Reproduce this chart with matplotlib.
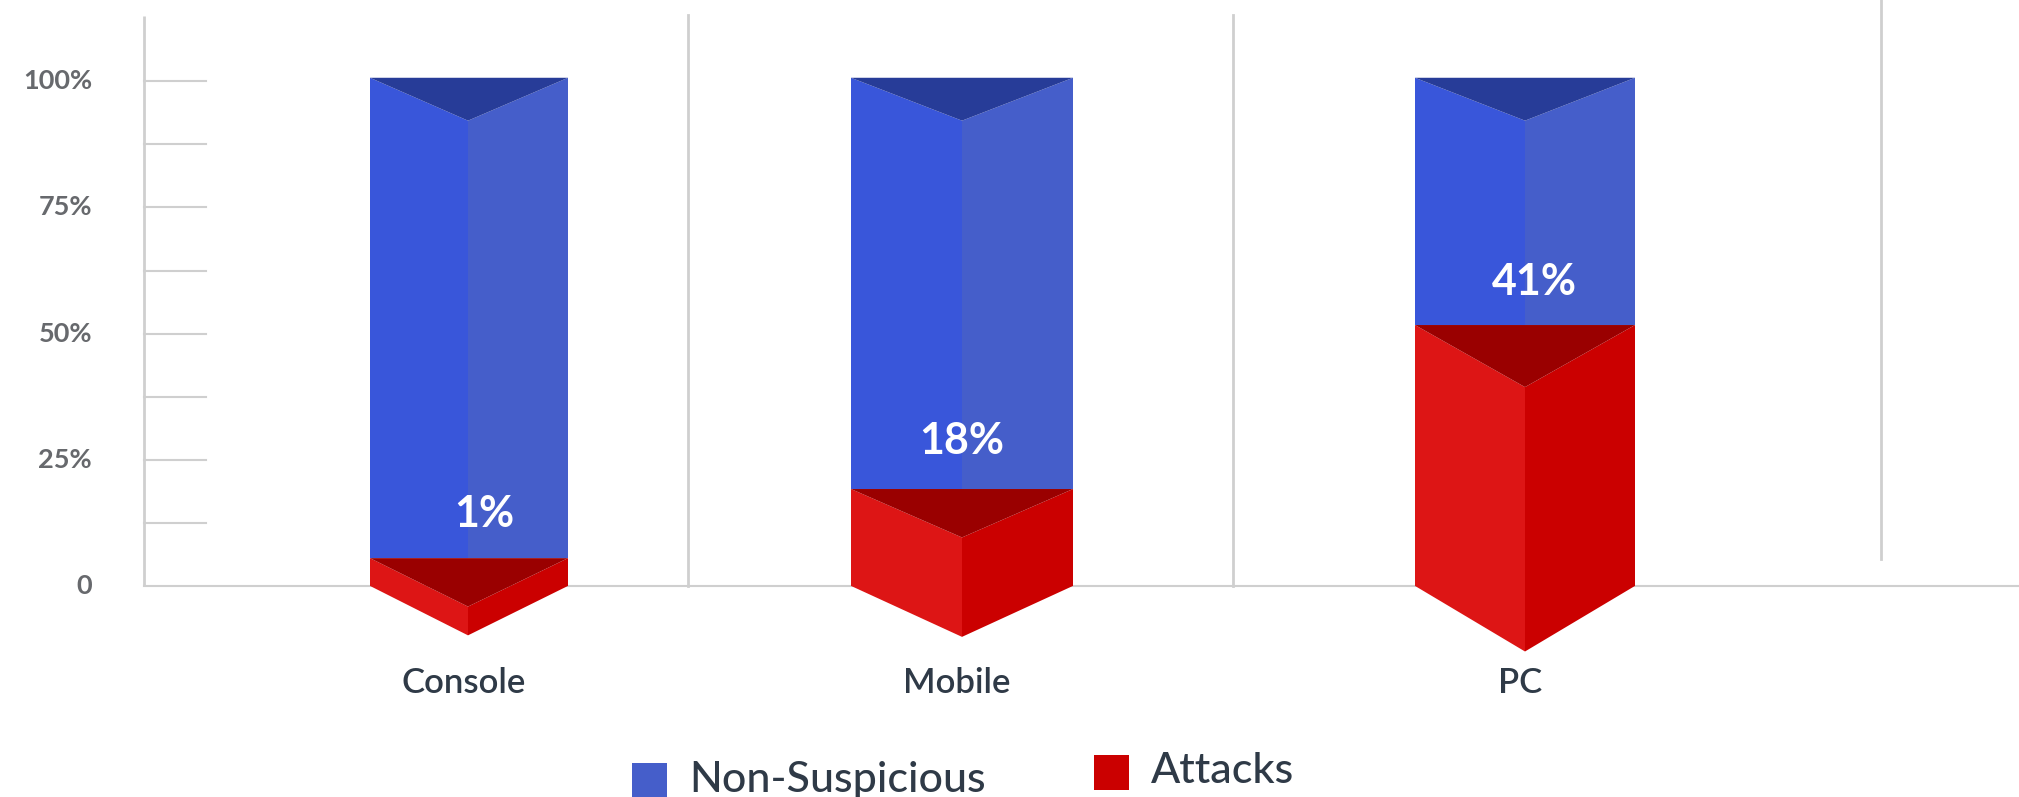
import matplotlib
matplotlib.use("Agg")
import matplotlib.pyplot as plt
from matplotlib.patches import Polygon, Rectangle

# ---------------- data ----------------
categories = ["Console", "Mobile", "PC"]
attacks = [5.5, 19.2, 51.7]            # visual bar height (%)
non_suspicious = [95.2, 81.5, 49.0]    # stacked on top
value_labels = ["1%", "18%", "41%"]
yticks = [0, 25, 50, 75, 100]
ytick_labels = ["0", "25%", "50%", "75%", "100%"]
series_names = ["Non-Suspicious", "Attacks"]

# ---------------- layout (pixel x positions, % depths) ----------------
W, H = 2019, 797
px_per_pct = 5.046
base_px = 585.9
centers = [469, 962, 1525]
widths = [198, 222, 220]
apex_dx = [-1, 0, 0]
top_depth = [8.5, 8.5, 8.5]
red_top_depth = [9.6, 9.6, 12.3]
bottom_depth = [9.8, 10.1, 13.0]
label_dx = [15, 0, 9]
label_dy = [8.7, 9.5, 8.5]

blue_left, blue_right, blue_top = "#3956da", "#455eca", "#273c98"
red_left, red_right, red_top = "#dd1515", "#cb0000", "#9a0000"
grid_c = "#cfcfcf"
text_dark = "#2f3a47"
tick_gray = "#67696d"

fig = plt.figure(figsize=(W / 100, H / 100), dpi=100)
ax = fig.add_axes([0, 0, 1, 1])
ymax = base_px / px_per_pct
ymin = -(H - base_px) / px_per_pct
ax.set_xlim(0, W)
ax.set_ylim(ymin, ymax)
ax.axis("off")

def ypx(p):
    return (base_px - p) / px_per_pct

# axis, gridlines
lw = 1.5
ax.plot([144, 144], [0, ypx(16)], color=grid_c, lw=2.0, solid_capstyle="butt", zorder=1)
ax.plot([144, W], [0, 0], color=grid_c, lw=lw, zorder=1)
for k in range(1, 9):
    v = k * 12.5
    ax.plot([144, 206], [v, v], color=grid_c, lw=lw, zorder=1)
for xs in (687.5, 1232.6):
    ax.plot([xs, xs], [0, ypx(15)], color=grid_c, lw=2.0, zorder=1)
ax.plot([1881, 1881], [ypx(559), ymax], color=grid_c, lw=2.0, zorder=1)

for v, lab in zip(yticks, ytick_labels):
    ax.text(92, v, lab, ha="right", va="center", fontsize=19.5, fontweight="bold",
            color=tick_gray, family=["Lato", "DejaVu Sans"])

# prism bars
for i, cat in enumerate(categories):
    c = centers[i]
    L = c - widths[i] / 2
    R = c + widths[i] / 2
    ax_c = c + apex_dx[i]
    a = attacks[i]
    tot = a + non_suspicious[i]
    # blue segment
    ax.add_patch(Polygon([(L, tot), (ax_c, tot - top_depth[i]), (ax_c, a), (L, a)],
                         closed=True, facecolor=blue_left, edgecolor="none", zorder=3))
    ax.add_patch(Polygon([(R, tot), (ax_c, tot - top_depth[i]), (ax_c, a), (R, a)],
                         closed=True, facecolor=blue_right, edgecolor="none", zorder=3))
    ax.add_patch(Polygon([(L, tot), (R, tot), (ax_c, tot - top_depth[i])],
                         closed=True, facecolor=blue_top, edgecolor="none", zorder=4))
    # red segment
    ax.add_patch(Polygon([(L, a), (ax_c, a - red_top_depth[i]), (ax_c, -bottom_depth[i]), (L, 0)],
                         closed=True, facecolor=red_left, edgecolor="none", zorder=5))
    ax.add_patch(Polygon([(R, a), (ax_c, a - red_top_depth[i]), (ax_c, -bottom_depth[i]), (R, 0)],
                         closed=True, facecolor=red_right, edgecolor="none", zorder=5))
    ax.add_patch(Polygon([(L, a), (R, a), (ax_c, a - red_top_depth[i])],
                         closed=True, facecolor=red_top, edgecolor="none", zorder=6))
    # value label
    ax.text(c + label_dx[i], a + label_dy[i], value_labels[i], ha="center", va="center",
            fontsize=31, fontweight="bold", color="white", family=["Lato", "DejaVu Sans"], zorder=7)
    # category label
    ax.text(c - 5, ypx(683), cat, ha="center", va="center", fontsize=25,
            fontweight="semibold", color=text_dark, family=["Lato", "DejaVu Sans"])

# legend (manual)
leg_items = [
    (series_names[0], blue_right, 632, 763, 689, 792),
    (series_names[1], red_right, 1094, 755, 1151, 783),
]
for name, col, sx, sy, tx, ty in leg_items:
    fig.patches.append(Rectangle((sx / W, 1 - (sy + 35) / H), 35 / W, 35 / H,
                                 transform=fig.transFigure, facecolor=col, edgecolor="none"))
    fig.text(tx / W, 1 - ty / H, name, ha="left", va="baseline", fontsize=31,
             fontweight="medium", color=text_dark, family=["Lato", "DejaVu Sans"])

fig.savefig("out.png", dpi=100)
